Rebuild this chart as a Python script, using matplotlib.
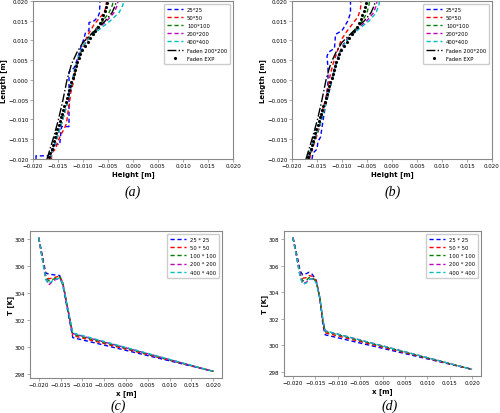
import matplotlib
matplotlib.use("Agg")
import matplotlib.pyplot as plt

# ---------------- Panel (a)/(b): interface shape ----------------
grid_len = [-0.020, -0.017, -0.014, -0.011, -0.008, -0.005, -0.002, 0.001, 0.004,
            0.007, 0.009, 0.011, 0.013, 0.015, 0.017, 0.019, 0.020]

# (a)
a_blue_h = [-0.0194, -0.0194, -0.0170, -0.0160, -0.0155, -0.0146, -0.0146, -0.0143, -0.0128,
            -0.0128, -0.0118, -0.0112, -0.0105, -0.0098, -0.0095, -0.0088, -0.0088, -0.0077,
            -0.0070, -0.0067, -0.0066]
a_blue_l = [-0.0200, -0.0192, -0.0192, -0.0175, -0.0163, -0.0163, -0.0155, -0.0118, -0.0118,
            0.0020, 0.0030, 0.0050, 0.0080, 0.0105, 0.0120, 0.0125, 0.0145, 0.0150,
            0.0160, 0.0170, 0.0200]
a_red_h = [-0.0163, -0.0163, -0.0155, -0.0150, -0.0145, -0.0138, -0.0133, -0.0130, -0.0127,
           -0.0125, -0.0120, -0.0117, -0.0112, -0.0105, -0.0098, -0.0092, -0.0085, -0.0078,
           -0.0068, -0.0058, -0.0054, -0.0053]
a_red_l = [-0.0200, -0.0185, -0.0175, -0.0155, -0.0140, -0.0125, -0.0110, -0.0080, -0.0060,
           -0.0035, -0.0010, 0.0010, 0.0040, 0.0070, 0.0090, 0.0110, 0.0125, 0.0140,
           0.0155, 0.0170, 0.0185, 0.0200]
a_green_h = [-0.0167, -0.0159, -0.0151, -0.0143, -0.0136, -0.0130, -0.0124, -0.0118, -0.0112,
             -0.0104, -0.0097, -0.0088, -0.0074, -0.0060, -0.0048, -0.0041, -0.0040]
a_mag_h = [-0.0166, -0.0158, -0.0150, -0.0143, -0.0136, -0.0130, -0.0124, -0.0119, -0.0113,
           -0.0105, -0.0097, -0.0086, -0.0070, -0.0052, -0.0038, -0.0031, -0.0030]
a_cyan_h = [-0.0166, -0.0158, -0.0150, -0.0143, -0.0136, -0.0130, -0.0125, -0.0120, -0.0114,
            -0.0106, -0.0098, -0.0085, -0.0065, -0.0045, -0.0028, -0.0020, -0.0019]

# (b)
b_blue_h = [-0.0160, -0.0158, -0.0150, -0.0148, -0.0143, -0.0140, -0.0135, -0.0131, -0.0128,
            -0.0128, -0.0130, -0.0127, -0.0115, -0.0113, -0.0100, -0.0095, -0.0088, -0.0083,
            -0.0083]
b_blue_l = [-0.0200, -0.0185, -0.0175, -0.0155, -0.0145, -0.0120, -0.0080, -0.0040, -0.0005,
            0.0030, 0.0060, 0.0070, 0.0080, 0.0115, 0.0125, 0.0135, 0.0150, 0.0170,
            0.0200]
b_red_h = [-0.0165, -0.0158, -0.0150, -0.0145, -0.0140, -0.0133, -0.0128, -0.0124, -0.0118,
           -0.0110, -0.0102, -0.0092, -0.0080, -0.0068, -0.0063, -0.0062]
b_red_l = [-0.020, -0.017, -0.014, -0.012, -0.008, -0.005, -0.002, 0.001, 0.004,
           0.007, 0.010, 0.012, 0.014, 0.016, 0.018, 0.020]
b_green_h = [-0.0167, -0.0159, -0.0151, -0.0143, -0.0136, -0.0130, -0.0124, -0.0118, -0.0112,
             -0.0104, -0.0097, -0.0086, -0.0072, -0.0059, -0.0050, -0.0046, -0.0045]
b_mag_h = [-0.0168, -0.0160, -0.0152, -0.0144, -0.0137, -0.0130, -0.0124, -0.0119, -0.0113,
           -0.0105, -0.0097, -0.0085, -0.0068, -0.0050, -0.0037, -0.0031, -0.0030]
b_cyan_h = [-0.0169, -0.0161, -0.0152, -0.0144, -0.0137, -0.0130, -0.0124, -0.0118, -0.0112,
            -0.0104, -0.0096, -0.0083, -0.0065, -0.0045, -0.0032, -0.0026, -0.0025]

faden_sim_h = [-0.0172, -0.0160, -0.0149, -0.0140, -0.0132, -0.0123, -0.0112, -0.0100,
               -0.0088, -0.0072, -0.0055, -0.0042, -0.0035, -0.0034]
faden_sim_l = [-0.020, -0.015, -0.010, -0.005, 0.000, 0.004, 0.007, 0.0095,
               0.011, 0.013, 0.015, 0.017, 0.019, 0.020]

exp_l = [-0.0195, -0.0185, -0.0175, -0.0165, -0.0155, -0.0145, -0.0135, -0.0125, -0.0115,
         -0.0105, -0.0095, -0.0085, -0.0075, -0.0065, -0.0055, -0.0045, -0.0035, -0.0025,
         -0.0015, -0.0005, 0.0005, 0.0015, 0.0025, 0.0035, 0.0045, 0.0055, 0.0065, 0.0075,
         0.0085, 0.0095, 0.0105, 0.0115, 0.0125, 0.0135, 0.0145, 0.0155, 0.0165, 0.0175,
         0.0185, 0.0195]
exp_h = [-0.0168, -0.0166, -0.0163, -0.0161, -0.0159, -0.0156, -0.0154, -0.0152, -0.0149,
         -0.0147, -0.0145, -0.0142, -0.0140, -0.0138, -0.0135, -0.0133, -0.0131, -0.0128,
         -0.0126, -0.0124, -0.0121, -0.0119, -0.0117, -0.0114, -0.0112, -0.0109, -0.0106,
         -0.0102, -0.0097, -0.0091, -0.0086, -0.0081, -0.0076, -0.0071, -0.0067, -0.0063,
         -0.0060, -0.0057, -0.0055, -0.0053]

# ---------------- Panel (c)/(d): temperature ----------------
c_x = [-0.0200, -0.0184, -0.0177, -0.0165, -0.0152, -0.0145, -0.0122, 0.0200]
c_blue = [308.1, 305.5, 305.4, 305.35, 305.3, 304.6, 300.7, 298.2]
c_red = [308.1, 305.3, 305.05, 305.15, 305.25, 304.8, 300.85, 298.2]
c_green = [308.1, 305.2, 304.9, 305.05, 305.2, 304.8, 300.95, 298.2]
c_mag = [308.1, 305.1, 304.6, 304.95, 305.1, 304.7, 301.0, 298.2]
c_cyan = [308.1, 305.0, 304.7, 305.0, 305.1, 304.7, 301.05, 298.2]

d_x = [-0.0200, -0.0190, -0.0184, -0.0178, -0.0170, -0.0164, -0.0157, -0.0148, -0.0140,
       -0.0133, -0.0128, 0.0200]
d_blue = [308.1, 306.6, 305.6, 305.3, 305.4, 305.5, 305.35, 304.9, 303.5, 301.5, 300.8, 298.2]
d_red = [308.1, 306.5, 305.4, 305.05, 305.1, 305.25, 305.2, 304.85, 303.6, 301.7, 300.95, 298.2]
d_green = [308.1, 306.4, 305.3, 304.85, 304.9, 305.1, 305.1, 304.8, 303.6, 301.8, 301.05, 298.2]
d_mag = [308.1, 306.3, 305.2, 304.65, 304.75, 305.0, 305.0, 304.75, 303.6, 301.85, 301.1, 298.2]
d_cyan = [308.1, 306.3, 305.15, 304.6, 304.7, 304.95, 305.0, 304.7, 303.6, 301.9, 301.1, 298.2]

shape_labels = ["25*25", "50*50", "100*100", "200*200", "400*400", "Faden 200*200", "Faden EXP"]
temp_labels = ["25 * 25", "50 * 50", "100 * 100", "200 * 200", "400 * 400"]
colors = ["#0000ff", "#ff0000", "#008000", "#bf00bf", "#00bfbf"]
ticks_ab = [-0.020, -0.015, -0.010, -0.005, 0.000, 0.005, 0.010, 0.015, 0.020]
ticks_T = [298, 300, 302, 304, 306, 308]

TICK = 4.0
LAB = 5.0
LEG = 3.8
LW = 1.0
DASH = (0, (3, 2))

fig = plt.figure(figsize=(5.0, 4.14), dpi=100)


def style(ax):
    for s in ax.spines.values():
        s.set_color("#888888")
        s.set_linewidth(0.8)
    ax.tick_params(labelsize=TICK, length=2, width=0.5, color="#888888", pad=1.2)


def fmt(t):
    return f"{t:.3f}".replace("-", "\u2212")


def shape_panel(rect, series):
    ax = fig.add_axes(rect)
    for (h, l), c, lab in zip(series, colors, shape_labels):
        ax.plot(h, l, color=c, ls=DASH, lw=LW, label=lab)
    ax.plot(faden_sim_h, faden_sim_l, color="k", ls="-.", lw=LW, label=shape_labels[5])
    ax.plot(exp_h, exp_l, "k.", ms=2.5, label=shape_labels[6])
    ax.set_xlim(-0.02, 0.02)
    ax.set_ylim(-0.02, 0.02)
    ax.set_xticks(ticks_ab)
    ax.set_yticks(ticks_ab)
    ax.set_xticklabels([fmt(t) for t in ticks_ab])
    ax.set_yticklabels([fmt(t) for t in ticks_ab])
    ax.set_xlabel("Height [m]", fontsize=LAB, fontweight="bold", labelpad=1)
    ax.set_ylabel("Length [m]", fontsize=LAB, fontweight="bold", labelpad=0.5)
    style(ax)
    ax.legend(loc="upper right", fontsize=LEG, handlelength=3.0, labelspacing=0.6,
              borderpad=0.6, framealpha=1, edgecolor="#cccccc", fancybox=True)
    return ax


def temp_panel(rect, x, ys):
    ax = fig.add_axes(rect)
    for y, c, lab in zip(ys, colors, temp_labels):
        ax.plot(x, y, color=c, ls=DASH, lw=LW, label=lab)
    ax.set_xticks(ticks_ab)
    ax.set_xticklabels([fmt(t) for t in ticks_ab])
    ax.set_yticks(ticks_T)
    ax.set_xlabel("x [m]", fontsize=LAB, fontweight="bold", labelpad=1)
    ax.set_ylabel("T [K]", fontsize=LAB, fontweight="bold", labelpad=1)
    style(ax)
    ax.legend(loc="upper right", fontsize=LEG, handlelength=3.0, labelspacing=0.6,
              borderpad=0.6, framealpha=1, edgecolor="#cccccc", fancybox=True)
    return ax


a_series = [(a_blue_h, a_blue_l), (a_red_h, a_red_l), (a_green_h, grid_len),
            (a_mag_h, grid_len), (a_cyan_h, grid_len)]
b_series = [(b_blue_h, b_blue_l), (b_red_h, b_red_l), (b_green_h, grid_len),
            (b_mag_h, grid_len), (b_cyan_h, grid_len)]

shape_panel([0.066, 0.6135, 0.40, 0.382], a_series)
shape_panel([0.584, 0.6135, 0.40, 0.382], b_series)
temp_panel([0.060, 0.0845, 0.384, 0.355], c_x, [c_blue, c_red, c_green, c_mag, c_cyan])
temp_panel([0.568, 0.0894, 0.394, 0.350], d_x, [d_blue, d_red, d_green, d_mag, d_cyan])

cap_kw = dict(fontsize=10, family="Liberation Serif", style="italic", ha="center", va="center")
fig.text(133 / 500, 1 - 192 / 414, "(a)", **cap_kw)
fig.text(393 / 500, 1 - 192 / 414, "(b)", **cap_kw)
fig.text(118 / 500, 1 - 406 / 414, "(c)", **cap_kw)
fig.text(390 / 500, 1 - 406 / 414, "(d)", **cap_kw)

fig.savefig("out.png", dpi=100)
